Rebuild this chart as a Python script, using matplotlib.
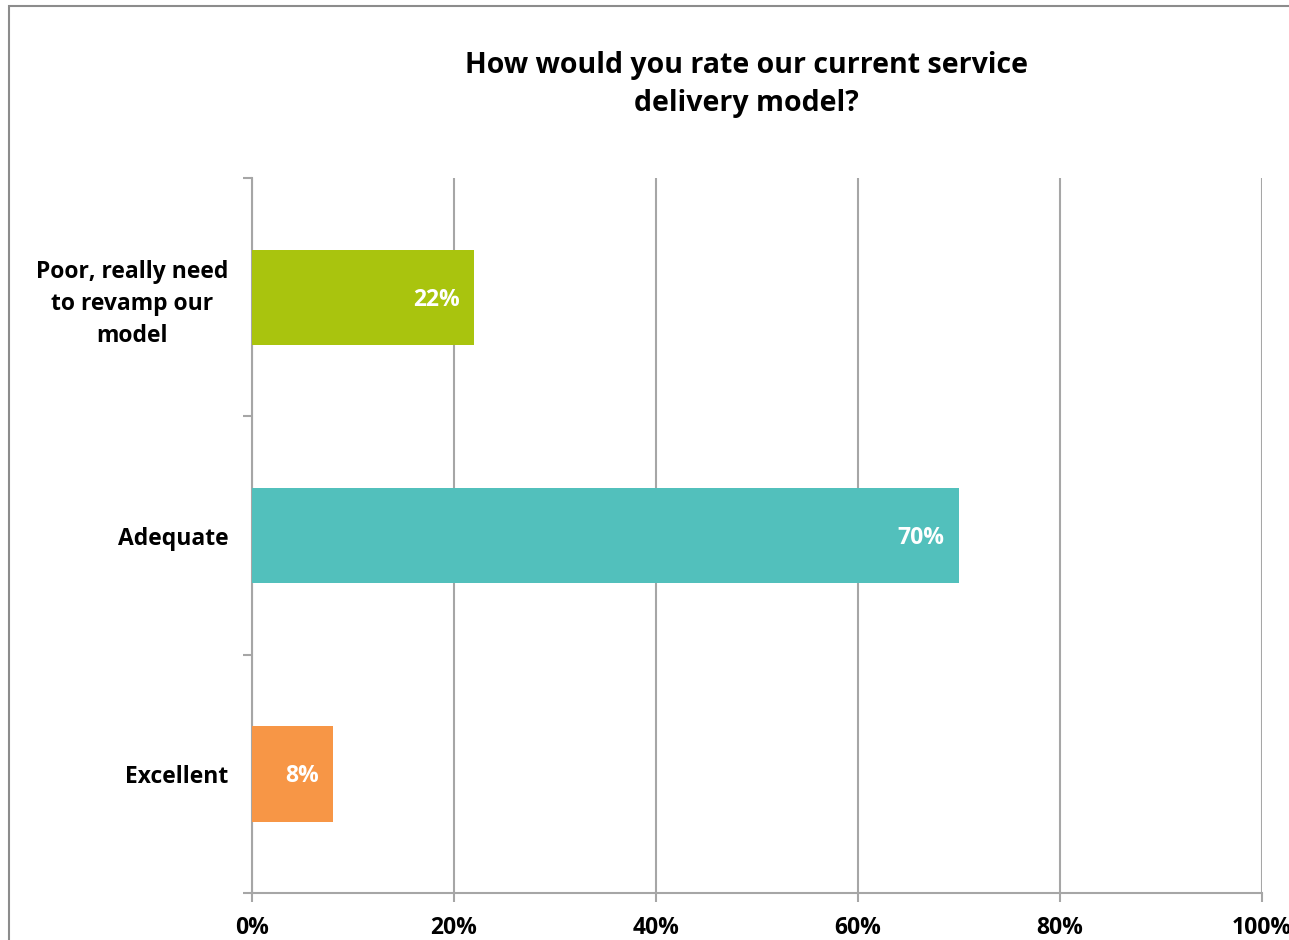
import matplotlib.pyplot as plt
from matplotlib.patches import Rectangle

categories = ['Poor, really need\nto revamp our\nmodel', 'Adequate', 'Excellent']
shares = [22, 70, 8]
colors = ['#A9C40E', '#52C0BC', '#F79646']
x_ticks = [0, 20, 40, 60, 80, 100]

plt.rcParams['font.family'] = ['Open Sans', 'DejaVu Sans']
plt.rcParams['font.weight'] = 'bold'

fig = plt.figure(figsize=(12.89, 9.40), dpi=100)
ax = fig.add_axes([0.1955, 0.05, 0.7835, 0.7606])

# chart frame around the whole figure
fig.patches.append(Rectangle((9 / 1289, -0.1), 1.2, 1.1 - 6 / 940, transform=fig.transFigure,
                             fill=False, edgecolor='#8C8C8C', linewidth=1.5))

pos = list(range(len(categories)))
ax.barh(pos, shares, height=0.4, color=colors, zorder=3)

for y, v in zip(pos, shares):
    ax.text(v - 1.4, y + 0.01, f'{v}%', ha='right', va='center', color='white',
            fontsize=16.5, fontweight='bold', zorder=4)

ax.set_xlim(0, 100)
ax.set_ylim(2.5, -0.5)
ax.set_xticks(x_ticks)
ax.set_xticklabels([f'{t}%' for t in x_ticks], fontsize=16.5, fontweight='bold')
ax.set_yticks([-0.5, 0.5, 1.5, 2.5], minor=False)
ax.set_yticklabels([])
ax.set_yticks(pos, minor=True)
ax.set_yticklabels(categories, minor=True, fontsize=16.5, fontweight='bold',
                   multialignment='center', linespacing=1.45)
ax.tick_params(axis='y', which='minor', length=0, pad=17)
ax.tick_params(axis='y', which='major', length=6.5, color='#A6A6A6', width=1.5)
ax.tick_params(axis='x', length=6.5, color='#A6A6A6', width=1.5, pad=10, direction='out')

ax.grid(axis='x', color='#A6A6A6', linewidth=1.5, zorder=0)
for side in ['top', 'right']:
    ax.spines[side].set_visible(False)
for side in ['left', 'bottom']:
    ax.spines[side].set_color('#A6A6A6')
    ax.spines[side].set_linewidth(1.5)

fig.text(0.579, 0.91, 'How would you rate our current service\ndelivery model?',
         ha='center', va='center', fontsize=20.5, fontweight='bold',
         multialignment='center', linespacing=1.4)

fig.savefig('out.png', dpi=100)
